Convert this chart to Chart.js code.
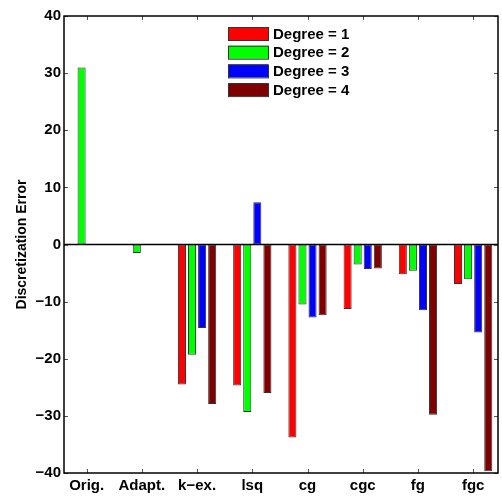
<!DOCTYPE html>
<html>
<head>
<meta charset="utf-8">
<script src="https://cdn.jsdelivr.net/npm/chart.js@4/dist/chart.umd.min.js"></script>
<style>
  html, body { margin: 0; padding: 0; background: #fff; }
  #wrap { width: 502px; height: 500px; }
</style>
</head>
<body>
<div id="wrap"><canvas id="errChart" width="502" height="500"></canvas></div>
<script>
// categories and series
const categories = ['Orig.', 'Adapt.', 'k\u2212ex.', 'lsq', 'cg', 'cgc', 'fg', 'fgc'];
const seriesNames = ['Degree = 1', 'Degree = 2', 'Degree = 3', 'Degree = 4'];
const degree1 = [0, 0, -24.5, -24.7, -33.8, -11.3, -5.2, -6.9];
const degree2 = [31, -1.5, -19.3, -29.3, -10.5, -3.5, -4.6, -6.1];
const degree3 = [0, 0, -14.6, 7.4, -12.8, -4.3, -11.5, -15.4];
const degree4 = [0, 0, -27.9, -26.0, -12.4, -4.2, -29.8, -39.7];
const yTicks = [-40, -30, -20, -10, 0, 10, 20, 30, 40];

const colors = ['#ff0000', '#00ff00', '#0000ff', '#7f0000'];
const FONT = '"Liberation Sans", Arial, Helvetica, sans-serif';

function makeDataset(label, values, color) {
    return {
        label: label,
        data: values.map((v, i) => ({ x: i + 1, y: v })),
        backgroundColor: color,
        borderColor: '#333',
        borderWidth: 1,
        borderSkipped: false,
        categoryPercentage: 0.73,
        barPercentage: 0.8
    };
}

// box, inward ticks, zero line and legend, MATLAB style
const matlabFrame = {
    id: 'matlabFrame',
    afterDatasetsDraw(chart) {
        const ctx = chart.ctx;
        const a = chart.chartArea;
        const xs = chart.scales.x, ys = chart.scales.y;
        ctx.save();

        // zero baseline
        const y0 = ys.getPixelForValue(0);
        ctx.strokeStyle = '#000';
        ctx.lineWidth = 1.5;
        ctx.beginPath();
        ctx.moveTo(a.left, y0);
        ctx.lineTo(a.right, y0);
        ctx.stroke();

        // tick marks inside the box
        ctx.strokeStyle = '#555';
        ctx.lineWidth = 1;
        const len = 4;
        ys.ticks.forEach(t => {
            const p = Math.round(ys.getPixelForValue(t.value)) + 0.5;
            ctx.beginPath();
            ctx.moveTo(a.left, p); ctx.lineTo(a.left + len, p);
            ctx.moveTo(a.right, p); ctx.lineTo(a.right - len, p);
            ctx.stroke();
        });
        xs.ticks.forEach(t => {
            const p = Math.round(xs.getPixelForValue(t.value)) + 0.5;
            ctx.beginPath();
            ctx.moveTo(p, a.bottom); ctx.lineTo(p, a.bottom - len);
            ctx.moveTo(p, a.top); ctx.lineTo(p, a.top + len);
            ctx.stroke();
        });

        // axes box
        ctx.strokeStyle = '#000';
        ctx.lineWidth = 1.5;
        ctx.strokeRect(a.left, a.top, a.right - a.left, a.bottom - a.top);

        // legend
        const lx = 228, ly = 27, bw = 40, bh = 13, gap = 18.7;
        ctx.font = 'bold 15px ' + FONT;
        ctx.textBaseline = 'middle';
        ctx.textAlign = 'left';
        chart.data.datasets.forEach((ds, i) => {
            const y = ly + i * gap;
            ctx.fillStyle = ds.backgroundColor;
            ctx.fillRect(lx, y, bw, bh);
            ctx.strokeStyle = '#333';
            ctx.lineWidth = 1;
            ctx.strokeRect(lx + 0.5, y + 0.5, bw, bh);
            ctx.fillStyle = '#000';
            ctx.fillText(ds.label, lx + bw + 5, y + bh / 2 + 1);
        });
        ctx.restore();
    }
};

const ctx = document.getElementById('errChart').getContext('2d');
const chart = new Chart(ctx, {
    type: 'bar',
    data: {
        datasets: [
            makeDataset(seriesNames[0], degree1, colors[0]),
            makeDataset(seriesNames[1], degree2, colors[1]),
            makeDataset(seriesNames[2], degree3, colors[2]),
            makeDataset(seriesNames[3], degree4, colors[3])
        ]
    },
    options: {
        responsive: false,
        animation: false,
        layout: { padding: { top: 16, right: 4, left: 0, bottom: 0 } },
        plugins: {
            legend: { display: false },
            tooltip: { enabled: false }
        },
        scales: {
            x: {
                type: 'linear',
                min: 0.59,
                max: 8.45,
                offset: false,
                grid: { display: false, offset: false, drawTicks: false },
                border: { display: false },
                afterBuildTicks: s => { s.ticks = categories.map((c, i) => ({ value: i + 1 })); },
                afterFit: s => { s.height = 27; },
                ticks: {
                    autoSkip: false,
                    maxRotation: 0,
                    padding: 4,
                    color: '#000',
                    font: { family: FONT, size: 15, weight: 'bold' },
                    callback: v => categories[Math.round(v) - 1]
                }
            },
            y: {
                min: -40,
                max: 40,
                grid: { display: false, drawTicks: false },
                border: { display: false },
                afterBuildTicks: s => { s.ticks = yTicks.map(v => ({ value: v })); },
                afterFit: s => { s.width = 64; },
                title: {
                    display: true,
                    text: 'Discretization Error',
                    color: '#000',
                    font: { family: FONT, size: 14, weight: 'bold' },
                    padding: { top: 14, bottom: 0 }
                },
                ticks: {
                    padding: 3,
                    color: '#000',
                    font: { family: FONT, size: 15, weight: 'bold' },
                    callback: v => String(v).replace('-', '\u2212')
                }
            }
        }
    },
    plugins: [matlabFrame]
});
</script>
</body>
</html>
